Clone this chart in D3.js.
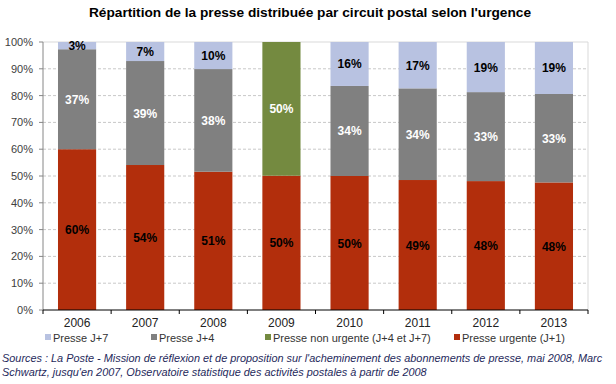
<!DOCTYPE html>
<html lang="fr">
<head>
<meta charset="utf-8">
<title>Répartition de la presse distribuée par circuit postal</title>
<style>
  body { margin: 0; background: #fff; }
  svg { font-family: "Liberation Sans", Arial, sans-serif; }
  .grid line { stroke: #c8c8c8; stroke-dasharray: 3,2; }
  .ylab { fill: #404040; font-size: 11px; text-anchor: end; }
  .xlab { fill: #222; font-size: 12px; text-anchor: middle; }
  .lbl { font-size: 12px; font-weight: bold; text-anchor: middle; }
  .leg text { fill: #333; font-size: 11px; }
  .src { fill: #1f2a5c; font-size: 10.9px; font-style: italic; }
</style>
</head>
<body>
<svg id="chart" width="616" height="384"></svg>
<script src="https://d3js.org/d3.v7.min.js"></script>
<script>
// data
const years = ['2006', '2007', '2008', '2009', '2010', '2011', '2012', '2013'];
const urgent = [60, 54.1, 51.6, 50.1, 50, 48.5, 48.1, 47.6];
const j4 = [37.3, 38.8, 38.3, 0, 33.6, 34.2, 33.2, 33.0];
const nonUrgent = [0, 0, 0, 49.9, 0, 0, 0, 0];
const j7 = [2.7, 7.1, 10.1, 0, 16.4, 17.3, 18.7, 19.4];

// labels as printed on the chart
const urgentLbl = ['60%', '54%', '51%', '50%', '50%', '49%', '48%', '48%'];
const j4Lbl = ['37%', '39%', '38%', '', '34%', '34%', '33%', '33%'];
const nonUrgentLbl = ['', '', '', '50%', '', '', '', ''];
const j7Lbl = ['3%', '7%', '10%', '', '16%', '17%', '19%', '19%'];

const yTicks = [0, 10, 20, 30, 40, 50, 60, 70, 80, 90, 100];

const series = [
  { key: 'urgent', name: 'Presse urgente (J+1)', vals: urgent, lbl: urgentLbl, color: '#b22e0c', text: '#000' },
  { key: 'j4', name: 'Presse J+4', vals: j4, lbl: j4Lbl, color: '#808080', text: '#fff' },
  { key: 'nonUrgent', name: 'Presse non urgente (J+4 et J+7)', vals: nonUrgent, lbl: nonUrgentLbl, color: '#748a40', text: '#fff' },
  { key: 'j7', name: 'Presse J+7', vals: j7, lbl: j7Lbl, color: '#b8c2e1', text: '#000' }
];

const svg = d3.select('#chart');
const plotL = 43, plotR = 588, plotT = 42, plotB = 310;

const x = d3.scaleBand().domain(years).range([plotL, plotR])
  .paddingInner(0.44).paddingOuter(0.22);
const y = d3.scaleLinear().domain([0, 100]).range([plotB, plotT]);

// title
svg.append('text')
  .attr('x', 310).attr('y', 17)
  .attr('text-anchor', 'middle')
  .style('font-size', '13.7px').style('font-weight', 'bold')
  .attr('fill', '#000')
  .text("Répartition de la presse distribuée par circuit postal selon l'urgence");

// gridlines
svg.append('g').attr('class', 'grid')
  .selectAll('line')
  .data(yTicks.filter(d => d > 0 && d < 100))
  .join('line')
  .attr('x1', plotL).attr('x2', plotR)
  .attr('y1', d => y(d)).attr('y2', d => y(d));

// plot border (top & right)
svg.append('path')
  .attr('d', `M${plotL},${y(100)}H${plotR}V${plotB}`)
  .attr('fill', 'none').attr('stroke', '#d9d9d9');

// stacked bars
const stackData = years.map((yr, i) => {
  const o = { year: yr };
  series.forEach(s => o[s.key] = s.vals[i]);
  return o;
});
const stack = d3.stack().keys(series.map(s => s.key))(stackData);

stack.forEach((layer, si) => {
  const s = series[si];
  const g = svg.append('g');
  g.selectAll('rect')
    .data(layer)
    .join('rect')
    .attr('x', d => x(d.data.year))
    .attr('width', x.bandwidth())
    .attr('y', d => y(d[1]))
    .attr('height', d => y(d[0]) - y(d[1]))
    .attr('fill', s.color);
  g.selectAll('text')
    .data(layer)
    .join('text')
    .attr('class', 'lbl')
    .attr('x', d => x(d.data.year) + x.bandwidth() / 2)
    .attr('y', d => (y(d[0]) + y(d[1])) / 2 + 4.5)
    .attr('fill', s.text)
    .text((d, i) => s.lbl[i]);
});

// y axis
svg.append('line')
  .attr('x1', plotL).attr('x2', plotL)
  .attr('y1', plotT).attr('y2', plotB)
  .attr('stroke', '#868686');
svg.append('g').selectAll('line')
  .data(yTicks).join('line')
  .attr('x1', plotL - 4).attr('x2', plotL)
  .attr('y1', d => y(d)).attr('y2', d => y(d))
  .attr('stroke', '#868686');
svg.append('g').selectAll('text')
  .data(yTicks).join('text')
  .attr('class', 'ylab')
  .attr('x', plotL - 10).attr('y', d => y(d) + 4)
  .text(d => d + '%');

// x axis
svg.append('line')
  .attr('x1', plotL).attr('x2', plotR)
  .attr('y1', plotB).attr('y2', plotB)
  .attr('stroke', '#000');
const step = x.step();
svg.append('g').selectAll('line')
  .data(d3.range(years.length + 1)).join('line')
  .attr('x1', i => plotL + i * step).attr('x2', i => plotL + i * step)
  .attr('y1', plotB).attr('y2', plotB + 4)
  .attr('stroke', '#000');
svg.append('g').selectAll('text')
  .data(years).join('text')
  .attr('class', 'xlab')
  .attr('x', d => x(d) + x.bandwidth() / 2)
  .attr('y', plotB + 17)
  .text(d => d);

// legend
const legOrder = [series[3], series[1], series[2], series[0]];
const legX = [45, 151, 265, 454];
const leg = svg.append('g').attr('class', 'leg')
  .selectAll('g').data(legOrder).join('g')
  .attr('transform', (d, i) => `translate(${legX[i]},338)`);
leg.append('rect')
  .attr('x', 0).attr('y', -4).attr('width', 6).attr('height', 6)
  .attr('fill', d => d.color);
leg.append('text')
  .attr('x', 8).attr('y', 3.5)
  .text(d => d.name);

// sources
svg.append('text').attr('class', 'src')
  .attr('x', 2).attr('y', 362)
  .text("Sources : La Poste - Mission de réflexion et de proposition sur l'acheminement des abonnements de presse, mai 2008, Marc");
svg.append('text').attr('class', 'src')
  .attr('x', 2).attr('y', 376)
  .text("Schwartz, jusqu'en 2007, Observatoire statistique des activités postales à partir de 2008");
</script>
</body>
</html>
